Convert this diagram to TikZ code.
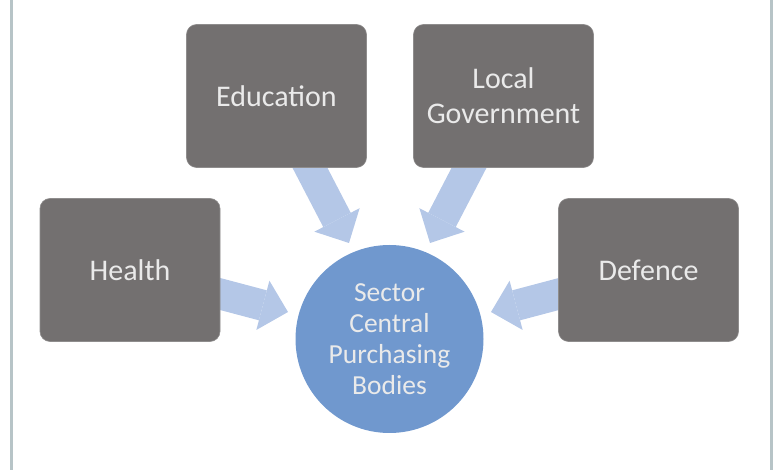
\documentclass[tikz,border=0pt]{standalone}
\usepackage{fontspec}
\setmainfont{Carlito}
\usetikzlibrary{arrows.meta}
\definecolor{boxgray}{HTML}{737070}
\definecolor{circblue}{HTML}{7098CE}
\definecolor{arrblue}{HTML}{B4C7E7}
\definecolor{framegray}{HTML}{B7C4C7}
\definecolor{txt}{HTML}{EAEAEA}
\begin{document}
\begin{tikzpicture}[x=1pt,y=-1pt,
  sectorbox/.style={rectangle, rounded corners=10pt, fill=boxgray, draw=boxgray!80!white, line width=0.6pt,
    minimum width=180pt, minimum height=143pt, inner sep=0pt, text=txt, align=center,
    font=\fontsize{30}{35}\selectfont},
  hub/.style={circle, fill=circblue, minimum size=188pt, inner sep=0pt, text=txt, align=center,
    font=\fontsize{27.5}{31}\selectfont},
  feed/.style={draw=arrblue, line width=31pt, -{Triangle[width=51pt,length=26pt,line width=0pt]}},
  frameline/.style={draw=framegray, line width=3pt}]
\useasboundingbox (0,0) rectangle (780,470);
% frame
\coordinate (flt) at (11.5,0);
\coordinate (flb) at (11.5,470);
\coordinate (frt) at (771.5,0);
\coordinate (frb) at (771.5,470);
\draw[frameline] (flt) -- (flb);
\draw[frameline] (frt) -- (frb);
% arrow anchors
\coordinate (hs) at (190,286);
\coordinate (he) at (288,312);
\coordinate (ds) at (589,286);
\coordinate (de) at (491,312);
\coordinate (es) at (295.5,140);
\coordinate (ee) at (349,243);
\coordinate (ls) at (483.5,140);
\coordinate (le) at (430,243);
\draw[feed] (hs) -- (he);
\draw[feed] (ds) -- (de);
\draw[feed] (es) -- (ee);
\draw[feed] (ls) -- (le);
% nodes
\node[hub] (hub) at (389.5,339) {Sector\\Central\\Purchasing\\Bodies};
\node[sectorbox] (health) at (130,270) {Health};
\node[sectorbox] (defence) at (648.5,270) {Defence};
\node[sectorbox] (education) at (276.5,96) {Education};
\node[sectorbox] (localgov) at (503.5,96) {Local\\Government};
\end{tikzpicture}
\end{document}
